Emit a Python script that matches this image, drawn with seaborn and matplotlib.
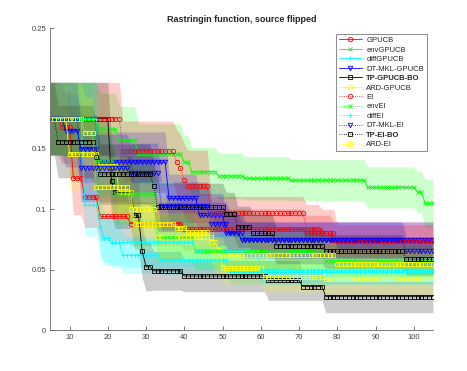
import numpy as np
import matplotlib
matplotlib.use("Agg")
import matplotlib.pyplot as plt
import seaborn as sns

# step curves: (first iteration, mean, band half-width)
GPUCB = [(5, 0.175, 0.03), (8, 0.168, 0.03), (11, 0.1255, 0.03), (14, 0.110, 0.025),
         (18, 0.094, 0.02), (26, 0.088, 0.018), (40, 0.0833, 0.017), (72, 0.080, 0.015),
         (79, 0.0745, 0.015)]
envGPUCB = [(5, 0.175, 0.03), (18, 0.166, 0.03), (23, 0.157, 0.028), (28, 0.1457, 0.025),
            (40, 0.139, 0.022), (42, 0.131, 0.02), (49, 0.1275, 0.019), (56, 0.1255, 0.018),
            (68, 0.124, 0.017), (88, 0.118, 0.017), (101, 0.114, 0.017), (103, 0.105, 0.02)]
diffGPUCB = [(5, 0.175, 0.03), (14, 0.1035, 0.026), (18, 0.0855, 0.022), (19, 0.076, 0.02),
             (21, 0.072, 0.018), (24, 0.062, 0.015), (34, 0.058, 0.012), (52, 0.048, 0.01)]
DT_MKL_GPUCB = [(5, 0.175, 0.03), (9, 0.165, 0.03), (13, 0.150, 0.028), (18, 0.139, 0.025),
                (36, 0.109, 0.02), (44, 0.095, 0.018), (51, 0.0806, 0.016), (55, 0.0745, 0.015)]
TP_GPUCB_BO = [(5, 0.175, 0.03), (21, 0.123, 0.03), (22, 0.114, 0.03), (27, 0.095, 0.028),
               (29, 0.065, 0.022), (30, 0.0524, 0.02), (32, 0.049, 0.016), (40, 0.0447, 0.013),
               (62, 0.041, 0.0165), (71, 0.036, 0.0115), (77, 0.0276, 0.0133)]
ARD_GPUCB = [(5, 0.175, 0.03), (10, 0.1457, 0.03), (18, 0.1357, 0.028), (23, 0.1145, 0.025),
             (27, 0.088, 0.022), (38, 0.0847, 0.02), (41, 0.081, 0.02), (47, 0.073, 0.018),
             (49, 0.066, 0.016), (50, 0.0524, 0.014), (51, 0.051, 0.013), (61, 0.0436, 0.012),
             (77, 0.042, 0.012)]
EI = [(5, 0.175, 0.03), (24, 0.148, 0.025), (38, 0.139, 0.027), (39, 0.134, 0.028),
      (40, 0.124, 0.03), (41, 0.119, 0.03), (47, 0.0966, 0.014), (72, 0.084, 0.02),
      (76, 0.080, 0.02), (80, 0.0735, 0.0135)]
envEI = [(5, 0.175, 0.03), (17, 0.14, 0.03), (22, 0.1126, 0.025), (33, 0.0767, 0.02),
         (43, 0.065, 0.015), (77, 0.057, 0.013)]
diffEI = [(5, 0.175, 0.03), (18, 0.0855, 0.025), (19, 0.076, 0.022), (21, 0.0726, 0.02),
          (43, 0.0655, 0.015), (60, 0.050, 0.012)]
DT_MKL_EI = [(5, 0.175, 0.03), (13, 0.134, 0.028), (26, 0.1297, 0.025), (34, 0.1026, 0.02),
             (47, 0.088, 0.018), (52, 0.080, 0.016), (56, 0.0745, 0.015), (98, 0.065, 0.012)]
TP_EI_BO = [(5, 0.175, 0.03), (7, 0.156, 0.03), (17, 0.1435, 0.028), (18, 0.129, 0.025),
            (32, 0.119, 0.022), (33, 0.1015, 0.02), (51, 0.096, 0.018), (54, 0.0855, 0.017),
            (58, 0.080, 0.016), (64, 0.0698, 0.015), (77, 0.065, 0.014), (98, 0.0585, 0.013)]
ARD_EI = [(5, 0.175, 0.03), (14, 0.163, 0.03), (17, 0.1187, 0.025), (26, 0.10, 0.022),
          (33, 0.077, 0.02), (48, 0.062, 0.015), (80, 0.0546, 0.013)]

iters = np.arange(5, 106)

series = [
    ("GPUCB", GPUCB, "r", "o", "-"),
    ("envGPUCB", envGPUCB, "g", "x", "-"),
    ("diffGPUCB", diffGPUCB, "c", "+", "-"),
    ("DT-MKL-GPUCB", DT_MKL_GPUCB, "b", "v", "-"),
    ("TP-GPUCB-BO", TP_GPUCB_BO, "k", "s", "-"),
    ("ARD-GPUCB", ARD_GPUCB, "y", "s", "-"),
    ("EI", EI, "r", "o", ":"),
    ("envEI", envEI, "g", "x", ":"),
    ("diffEI", diffEI, "c", "+", ":"),
    ("DT-MKL-EI", DT_MKL_EI, "b", "v", ":"),
    ("TP-EI-BO", TP_EI_BO, "k", "s", ":"),
    ("ARD-EI", ARD_EI, "y", "s", ":"),
]
colors = {"r": (1, 0, 0), "g": (0, 1, 0), "c": (0, 1, 1), "b": (0, 0, 1),
          "k": (0, 0, 0), "y": (1, 1, 0)}


def expand(steps):
    starts = [s[0] for s in steps]
    idx = np.searchsorted(starts, iters, side="right") - 1
    mean = np.array([steps[i][1] for i in idx])
    sd = np.array([steps[i][2] for i in idx])
    return mean, sd


sns.set_style("ticks")
plt.rcParams["font.family"] = ["Liberation Sans", "DejaVu Sans"]

fig = plt.figure(figsize=(4.67, 3.71), dpi=100)
ax = fig.add_axes([0.108, 0.1105, 0.819, 0.814])

# bands first, then the mean curves on top
for label, steps, c, m, ls in series:
    mean, sd = expand(steps)
    ax.fill_between(iters, mean - sd, mean + sd, color=colors[c], alpha=0.2, linewidth=0)

for label, steps, c, m, ls in series:
    mean, sd = expand(steps)
    sns.lineplot(x=iters, y=mean, ax=ax, color=colors[c], marker=m, linestyle=ls,
                 linewidth=0.6, markersize=3.2, markerfacecolor="none",
                 markeredgecolor=colors[c], markeredgewidth=0.6, errorbar=None,
                 label=label)

ax.set_xlim(5, 105)
ax.set_ylim(0, 0.25)
ax.set_xticks(range(10, 101, 10))
ax.set_yticks([0, 0.05, 0.1, 0.15, 0.2, 0.25])
ax.set_yticklabels(["0", "0.05", "0.1", "0.15", "0.2", "0.25"])
ax.set_xlabel("")
ax.set_ylabel("")
ax.tick_params(direction="in", length=3, width=0.5, labelsize=5.5,
               colors="#444444", pad=3)
for side in ["top", "right"]:
    ax.spines[side].set_visible(False)
for side in ["left", "bottom"]:
    ax.spines[side].set_linewidth(0.6)
    ax.spines[side].set_color("#666666")

ax.set_title("Rastringin function, source flipped", fontsize=6.5, fontweight="bold", pad=4)

leg = ax.legend(loc="upper right", bbox_to_anchor=(0.984, 0.98), borderaxespad=0,
                fontsize=5.5, handlelength=3.0, labelspacing=0.28, borderpad=0.35,
                handletextpad=0.6, framealpha=1, fancybox=False, edgecolor="#777777")
leg.get_frame().set_linewidth(0.6)
for t in leg.get_texts():
    if t.get_text().startswith("TP-"):
        t.set_fontweight("bold")

fig.savefig("out.png", dpi=100)
